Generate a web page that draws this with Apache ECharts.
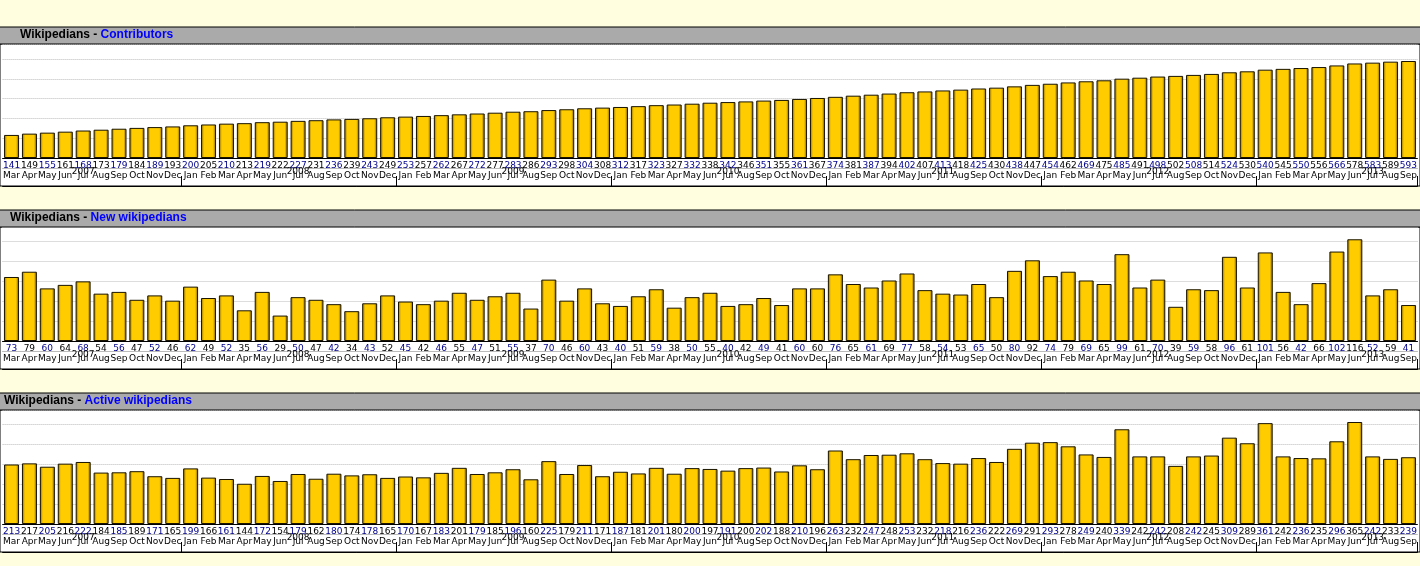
<!DOCTYPE html>
<html>
<head>
<meta charset="utf-8">
<script src="https://cdn.jsdelivr.net/npm/echarts@6/dist/echarts.min.js"></script>
<style>html,body{margin:0;padding:0;background:#ffffe0;}#container{width:1420px;height:566px;}</style>
</head>
<body>
<div id="container"></div>
<script>
var dom = document.getElementById("container");
var myChart = echarts.init(dom);

var monthNames = ['Jan','Feb','Mar','Apr','May','Jun','Jul','Aug','Sep','Oct','Nov','Dec'];
var months = [];
var years = [];
for (var i = 0; i < 79; i++) {
    var m = (i + 2) % 12;
    months.push(monthNames[m]);
    years.push(2007 + Math.floor((i + 2) / 12));
}

var contributors = [141,149,155,161,168,173,179,184,189,193,
    200,205,210,213,219,222,227,231,236,239,243,249,
    253,257,262,267,272,277,283,286,293,298,304,308,
    312,317,323,327,332,338,342,346,351,355,361,367,
    374,381,387,394,402,407,413,418,425,430,438,447,
    454,462,469,475,485,491,498,502,508,514,524,530,
    540,545,550,556,566,578,583,589,593];
var newWikipedians = [73,79,60,64,68,54,56,47,52,46,
    62,49,52,35,56,29,50,47,42,34,43,52,
    45,42,46,55,47,51,55,37,70,46,60,43,
    40,51,59,38,50,55,40,42,49,41,60,60,
    76,65,61,69,77,58,54,53,65,50,80,92,
    74,79,69,65,99,61,70,39,59,58,96,61,
    101,56,42,66,102,116,52,59,41];
var activeWikipedians = [213,217,205,216,222,184,185,189,171,165,
    199,166,161,144,172,154,179,162,180,174,178,165,
    170,167,183,201,179,185,196,160,225,179,211,171,
    187,181,201,180,200,197,191,200,202,188,210,196,
    263,232,247,248,253,232,218,216,236,222,269,291,
    293,278,249,240,339,242,242,208,242,245,309,289,
    361,242,236,235,296,365,242,233,239];

var panels = [
    { name: 'Contributors', data: contributors, top: 44, max: 697, interval: 121, titleX: 20 },
    { name: 'New wikipedians', data: newWikipedians, top: 227, max: 130, interval: 22.8, titleX: 10 },
    { name: 'Active wikipedians', data: activeWikipedians, top: 410, max: 408, interval: 71.5, titleX: 4 }
];

var grids = [], xAxes = [], yAxes = [], series = [], graphics = [];
var plotH = 114;

panels.forEach(function (p, k) {
    // white area + grey title bar
    graphics.push({ type: 'rect', z: -1, shape: { x: 0, y: p.top, width: 1420, height: plotH + 28 },
        style: { fill: '#ffffff', stroke: '#000', lineWidth: 1 } });
    graphics.push({ type: 'rect', shape: { x: -1, y: p.top - 17, width: 1422, height: 17 },
        style: { fill: '#aaaaaa', stroke: '#000', lineWidth: 1 } });
    graphics.push({ type: 'text', x: p.titleX, y: p.top - 15,
        style: { text: '{a|Wikipedians - }{b|' + p.name + '}',
            rich: { a: { fill: '#000', font: 'bold 12px "Liberation Sans"' },
                    b: { fill: '#0000ff', font: 'bold 12px "Liberation Sans"' } } } });

    grids.push({ left: 0, right: 0, top: p.top, height: plotH });
    var base = k * 3;
    xAxes.push({
        type: 'category', gridIndex: k, data: p.data, position: 'bottom',
        axisLine: { lineStyle: { color: '#000' } }, axisTick: { show: false },
        axisLabel: { interval: 0, margin: 3, fontSize: 9, fontFamily: 'DejaVu Sans',
            formatter: function (v, idx) { return idx % 2 === 0 ? '{b|' + v + '}' : '{k|' + v + '}'; },
            rich: { b: { color: '#00008b', fontSize: 9, fontFamily: 'DejaVu Sans' },
                    k: { color: '#000', fontSize: 9, fontFamily: 'DejaVu Sans' } } }
    });
    xAxes.push({
        type: 'category', gridIndex: k, data: months, position: 'bottom', offset: 10,
        axisLine: { lineStyle: { color: '#bbbbbb' } }, axisTick: { show: false },
        axisLabel: { interval: 0, margin: 3, fontSize: 9, color: '#000', fontFamily: 'DejaVu Sans' }
    });
    xAxes.push({
        type: 'category', gridIndex: k, data: years.map(function (y, idx) {
            return (months[idx] === 'Jul' || (idx === 4)) ? String(y) : '';
        }), position: 'bottom', offset: 28,
        axisLine: { lineStyle: { color: '#000' } },
        axisTick: { show: true, inside: true, length: 10, lineStyle: { color: '#000' },
            interval: function (idx) { return months[idx] === 'Jan'; } },
        axisLabel: { interval: 0, inside: true, margin: 10, fontSize: 9, color: '#000', fontFamily: 'DejaVu Sans',
            formatter: function (v) { return v; } }
    });
    yAxes.push({
        type: 'value', gridIndex: k, min: 0, max: p.max, interval: p.interval,
        axisLine: { show: false }, axisTick: { show: false }, axisLabel: { show: false },
        splitLine: { lineStyle: { color: '#bbbbbb', type: 'dotted' } }
    });
    series.push({
        type: 'bar', xAxisIndex: base, yAxisIndex: k, data: p.data, barWidth: 15,
        itemStyle: {
            borderColor: '#1a1400', borderWidth: 1,
            color: new echarts.graphic.LinearGradient(0, 0, 1, 0, [
                { offset: 0, color: '#8a6a00' }, { offset: 0.2, color: '#ffcc00' },
                { offset: 0.8, color: '#ffcc00' }, { offset: 1, color: '#7a5c00' }])
        }
    });
});

myChart.setOption({
    backgroundColor: '#ffffe0',
    animation: false,
    grid: grids,
    xAxis: xAxes,
    yAxis: yAxes,
    series: series,
    graphic: graphics
});
</script>
</body>
</html>
